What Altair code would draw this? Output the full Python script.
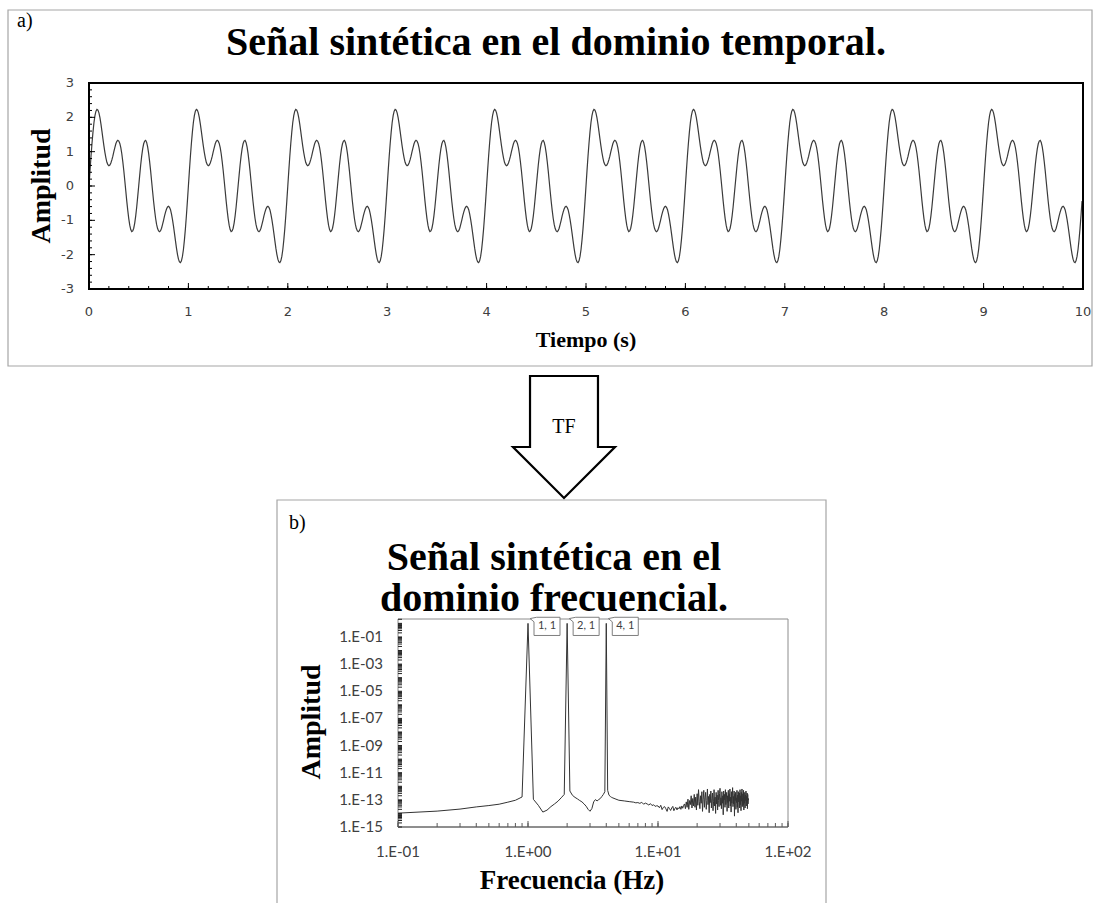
import altair as alt
import pandas as pd

# ---------------- panel a: signal in the time domain ----------------
# one period (1 s) of the curve read off the picture, sampled every 0.01 s;
# the picture shows the same period repeated 10 times
period_values = [
    0.00, 0.44, 0.86, 1.24, 1.57, 1.85, 2.05, 2.18, 2.23, 2.21,
    2.13, 1.99, 1.81, 1.60, 1.38, 1.17, 0.98, 0.82, 0.69, 0.62,
    0.59, 0.61, 0.67, 0.76, 0.87, 1.00, 1.12, 1.23, 1.30, 1.33,
    1.31, 1.24, 1.12, 0.94, 0.71, 0.45, 0.16, -0.14, -0.44, -0.71,
    -0.95, -1.14, -1.27, -1.33, -1.31, -1.23, -1.08, -0.87, -0.61, -0.31,
    0.00, 0.31, 0.61, 0.87, 1.08, 1.23, 1.31, 1.33, 1.27, 1.14,
    0.95, 0.71, 0.44, 0.14, -0.16, -0.45, -0.71, -0.94, -1.12, -1.24,
    -1.31, -1.33, -1.30, -1.23, -1.12, -1.00, -0.87, -0.76, -0.67, -0.61,
    -0.59, -0.62, -0.69, -0.82, -0.98, -1.17, -1.38, -1.60, -1.81, -1.99,
    -2.13, -2.21, -2.23, -2.18, -2.05, -1.85, -1.57, -1.24, -0.86, -0.44,
]
n_periods = 10
sample_step = 0.01

a_x_ticks = [0, 1, 2, 3, 4, 5, 6, 7, 8, 9, 10]
a_y_ticks = [-3, -2, -1, 0, 1, 2, 3]

# ---------------- panel b: spectrum (log10 of amplitude) ----------------
low_freq = [0.1, 0.2, 0.3, 0.4, 0.5, 0.6, 0.7, 0.8, 0.9, 1.0,
            1.1, 1.2, 1.3, 1.4, 1.5, 1.6, 1.7, 1.8, 1.9, 2.0,
            2.1, 2.2, 2.3, 2.4, 2.5, 2.6, 2.7, 2.8, 2.9, 3.0,
            3.1, 3.2, 3.3, 3.4, 3.5, 3.6, 3.7, 3.8, 3.9, 4.0,
            4.1, 4.2, 4.3, 4.4, 4.5, 4.75, 5.0, 5.5, 6.0, 6.5, 6.75]
low_log_amp = [-13.98, -13.83, -13.68, -13.52, -13.42, -13.32, -13.17, -13.03, -12.79, 0.0,
               -12.96, -13.40, -13.90, -13.76, -13.50, -13.30, -13.10, -12.85, -12.60, 0.0,
               -12.35, -12.67, -12.82, -12.93, -13.05, -13.15, -13.30, -13.47, -13.70, -13.84,
               -13.64, -13.15, -12.98, -13.08, -12.98, -12.90, -12.75, -12.60, -12.40, 0.0,
               -12.30, -12.66, -12.75, -12.82, -12.86, -12.95, -13.03, -13.08, -13.13, -13.17, -13.22]
noise_start = 7.0
noise_step = 0.25
noise_log_amp = [
    # 7 - 10 Hz
    -13.20, -13.26, -13.18, -13.32, -13.24, -13.30, -13.38, -13.28, -13.42, -13.36, -13.48, -13.44,
    # 10 - 16 Hz
    -13.45, -13.58, -13.40, -13.72, -13.55, -13.50, -13.66, -13.85, -13.52, -13.64, -13.78, -13.60,
    -13.48, -13.80, -13.62, -13.55, -13.74, -13.58, -13.66, -13.50, -13.70, -13.45, -13.62, -13.40,
    # 16 - 20 Hz
    -13.30, -13.65, -13.15, -13.55, -12.95, -13.70, -13.05, -13.35, -12.70, -13.60, -12.90, -13.45,
    -12.60, -13.55, -12.80, -13.75,
    # 20 - 50 Hz
    -12.55, -13.40, -12.25, -13.10, -13.65, -12.70, -13.25, -12.40, -13.85, -12.95,
    -12.30, -13.55, -12.85, -12.45, -13.70, -13.05, -12.20, -13.35, -12.75, -13.95,
    -12.60, -13.20, -12.35, -13.60, -12.90, -12.50, -13.80, -13.15, -12.25, -13.45,
    -12.80, -14.00, -12.45, -13.30, -12.65, -13.75, -12.30, -13.05, -13.50, -12.55,
    -12.15, -13.40, -12.85, -13.65, -12.40, -13.25, -12.70, -14.10, -12.35, -13.00,
    -12.60, -13.55, -12.25, -13.35, -12.95, -12.45, -13.85, -12.70, -13.20, -12.30,
    -13.60, -12.55, -13.10, -12.20, -13.45, -12.80, -13.90, -12.40, -13.25, -12.65,
    -12.10, -13.50, -12.75, -13.30, -12.35, -14.20, -12.60, -13.05, -12.45, -13.70,
    -12.85, -13.20, -12.30, -13.55, -12.65, -13.95, -12.40, -13.15, -12.90, -12.50,
    -13.60, -12.25, -13.35, -12.70, -13.80, -12.45, -13.10, -12.20, -13.50, -12.85,
    -12.55, -13.40, -12.30, -13.75, -12.80, -13.25, -12.45, -13.60, -12.65, -13.05,
    -12.35, -13.45, -12.75, -13.20, -12.50, -13.65, -12.60, -13.30, -12.90, -13.00,
    -13.00,
]
peak_freq = [1, 2, 4]
peak_amp = [1, 1, 1]
peak_labels = ["1, 1", "2, 1", "4, 1"]

b_y_tick_values = [1e-1, 1e-3, 1e-5, 1e-7, 1e-9, 1e-11, 1e-13, 1e-15]
b_y_tick_labels = ["1.E-01", "1.E-03", "1.E-05", "1.E-07", "1.E-09", "1.E-11", "1.E-13", "1.E-15"]
b_x_tick_values = [0.1, 1, 10, 100]
b_x_tick_labels = ["1.E-01", "1.E+00", "1.E+01", "1.E+02"]

# ---------------- tables ----------------
n = len(period_values) * n_periods
sig = pd.DataFrame({"t": [round(i * sample_step, 2) for i in range(n)],
                    "v": period_values * n_periods})
noise_freq = [round(noise_start + noise_step * i, 2) for i in range(len(noise_log_amp))]
spec = pd.DataFrame({"f": low_freq + noise_freq,
                     "a": [10 ** v for v in (low_log_amp + noise_log_amp)]})
peaks = pd.DataFrame({"f": peak_freq, "a": peak_amp, "lab": peak_labels})

a_xt = pd.DataFrame({"v": a_x_ticks, "lab": [str(v) for v in a_x_ticks]})
a_yt = pd.DataFrame({"v": a_y_ticks, "lab": [str(v) for v in a_y_ticks]})
a_xminor = pd.DataFrame({"v": [i / 5 for i in range(51)]})
a_yminor = pd.DataFrame({"v": [-3 + i / 5 for i in range(31)]})
b_yt = pd.DataFrame({"v": b_y_tick_values, "lab": b_y_tick_labels})
b_xt = pd.DataFrame({"v": b_x_tick_values, "lab": b_x_tick_labels})
b_yminor = pd.DataFrame({"v": [m * 10.0 ** e for e in range(-15, 1) for m in range(1, 10) if m * 10.0 ** e <= 2.1]})
b_xminor = pd.DataFrame({"v": [m * 10.0 ** e for e in range(-1, 2) for m in range(1, 10)] + [100.0]})
one = pd.DataFrame({"k": [0]})

# ---------------- scales (pixel ranges place each panel) ----------------
XA = alt.Scale(domain=[0, 10], range=[89, 1083], nice=False, zero=False)
YA = alt.Scale(domain=[-3, 3], range=[289, 83], nice=False, zero=False)
XB = alt.Scale(type="log", domain=[0.1, 100], range=[398, 788], nice=False)
YB = alt.Scale(type="log", domain=[1e-15, 2.1], range=[827, 619], nice=False)

SERIF = "Liberation Serif"


def text(t, x, y, size, weight="normal", font=SERIF, align="center", angle=0,
         baseline="alphabetic", color="black"):
    return alt.Chart(one).mark_text(
        text=t, fontSize=size, fontWeight=weight, font=font, align=align,
        baseline=baseline, angle=angle, color=color
    ).encode(x=alt.value(x), y=alt.value(y))


def box(x, x2, y, y2, stroke, sw, fill_opacity=0.0):
    return alt.Chart(one).mark_rect(
        fill="white", fillOpacity=fill_opacity, stroke=stroke, strokeWidth=sw
    ).encode(x=alt.value(x), x2=alt.value(x2), y=alt.value(y), y2=alt.value(y2))


layers = []
# panel outlines
layers.append(box(8, 1092, 10, 366, "#a6a6a6", 1.2, 1.0))
layers.append(box(277, 826, 500, 912, "#a6a6a6", 1.2, 1.0))

# arrow "TF"
arrow_path = ("M -0.557 -1 L 0.557 -1 L 0.557 0.164 L 0.836 0.164 L 0 1 "
              "L -0.836 0.164 L -0.557 0.164 Z")
layers.append(alt.Chart(one).mark_point(
    shape=arrow_path, size=122 * 122, filled=True, fill="white", stroke="black",
    strokeWidth=2.2, opacity=1
).encode(x=alt.value(564), y=alt.value(437)))
layers.append(text("TF", 564, 433, 20))

# ---- panel a ----
layers.append(text("a)", 17, 27, 20, align="left"))
layers.append(text("Señal sintética en el dominio temporal.", 556, 55, 40, weight="bold"))
layers.append(alt.Chart(sig).mark_line(color="#3a3a3a", strokeWidth=1.2).encode(
    x=alt.X("t:Q", scale=XA, axis=None), y=alt.Y("v:Q", scale=YA, axis=None)))
layers.append(alt.Chart(a_xminor).mark_rule(color="black", strokeWidth=1).encode(
    x=alt.X("v:Q", scale=XA, axis=None), y=alt.value(289), y2=alt.value(286)))
layers.append(alt.Chart(a_xt).mark_rule(color="black", strokeWidth=1).encode(
    x=alt.X("v:Q", scale=XA, axis=None), y=alt.value(289), y2=alt.value(283)))
layers.append(alt.Chart(a_yminor).mark_rule(color="black", strokeWidth=1).encode(
    y=alt.Y("v:Q", scale=YA, axis=None), x=alt.value(89), x2=alt.value(92)))
layers.append(alt.Chart(a_yt).mark_rule(color="black", strokeWidth=1).encode(
    y=alt.Y("v:Q", scale=YA, axis=None), x=alt.value(89), x2=alt.value(95)))
layers.append(box(89, 1083, 83, 289, "black", 2))
layers.append(alt.Chart(a_xt).mark_text(font="DejaVu Sans", fontSize=13, color="#404040",
                                         baseline="middle").encode(
    x=alt.X("v:Q", scale=XA, axis=None), y=alt.value(312), text="lab:N"))
layers.append(alt.Chart(a_yt).mark_text(font="DejaVu Sans", fontSize=13, color="#404040",
                                         baseline="middle", align="right").encode(
    y=alt.Y("v:Q", scale=YA, axis=None), x=alt.value(74), text="lab:N"))
layers.append(text("Amplitud", 42, 186, 28, weight="bold", angle=270, baseline="middle"))
layers.append(text("Tiempo (s)", 586, 347, 22, weight="bold"))

# ---- panel b ----
layers.append(text("b)", 289, 529, 20, align="left"))
layers.append(text("Señal sintética en el", 554, 570, 40, weight="bold"))
layers.append(text("dominio frecuencial.", 554, 611, 40, weight="bold"))
layers.append(box(398, 788, 619, 827, "#8c8c8c", 1))
layers.append(alt.Chart(one).mark_rule(color="#595959", strokeWidth=1.2).encode(
    x=alt.value(398), x2=alt.value(788), y=alt.value(827)))
layers.append(alt.Chart(spec).mark_line(color="#333333", strokeWidth=1).encode(
    x=alt.X("f:Q", scale=XB, axis=None), y=alt.Y("a:Q", scale=YB, axis=None)))
layers.append(alt.Chart(b_yminor).mark_rule(color="#222222", strokeWidth=1).encode(
    y=alt.Y("v:Q", scale=YB, axis=None), x=alt.value(398), x2=alt.value(402)))
layers.append(alt.Chart(b_xminor).mark_rule(color="#595959", strokeWidth=1).encode(
    x=alt.X("v:Q", scale=XB, axis=None), y=alt.value(827), y2=alt.value(823)))
layers.append(alt.Chart(b_xt).mark_rule(color="#595959", strokeWidth=1).encode(
    x=alt.X("v:Q", scale=XB, axis=None), y=alt.value(827), y2=alt.value(821)))
callout = "M -1 0.7 L -1 -0.35 L -1.3 -0.6 L -0.8 -0.7 L 1 -0.7 L 1 0.7 Z"
layers.append(alt.Chart(peaks).mark_point(
    shape=callout, size=676, filled=True, fill="white", stroke="#7f7f7f",
    strokeWidth=1, opacity=1, xOffset=19, yOffset=3
).encode(x=alt.X("f:Q", scale=XB, axis=None), y=alt.Y("a:Q", scale=YB, axis=None)))
layers.append(alt.Chart(peaks).mark_text(
    font="Lato", fontSize=11, color="#404040", dx=19, dy=3, baseline="middle"
).encode(x=alt.X("f:Q", scale=XB, axis=None), y=alt.Y("a:Q", scale=YB, axis=None),
         text="lab:N"))
layers.append(alt.Chart(b_yt).mark_text(font="Lato", fontSize=15, color="#404040",
                                         baseline="middle", align="right").encode(
    y=alt.Y("v:Q", scale=YB, axis=None), x=alt.value(383), text="lab:N"))
layers.append(alt.Chart(b_xt).mark_text(font="Lato", fontSize=15, color="#404040",
                                         baseline="middle").encode(
    x=alt.X("v:Q", scale=XB, axis=None), y=alt.value(852), text="lab:N"))
layers.append(text("Amplitud", 312, 722, 28, weight="bold", angle=270, baseline="middle"))
layers.append(text("Frecuencia (Hz)", 572, 889, 27, weight="bold"))

chart = alt.layer(*layers).resolve_scale(x="independent", y="independent").properties(
    width=1094, height=903, autosize=alt.AutoSizeParams(type="none"), padding=0,
    background="white"
).configure_view(stroke=None)

chart.save("out.html", embed_options={"renderer": "svg", "actions": False})
